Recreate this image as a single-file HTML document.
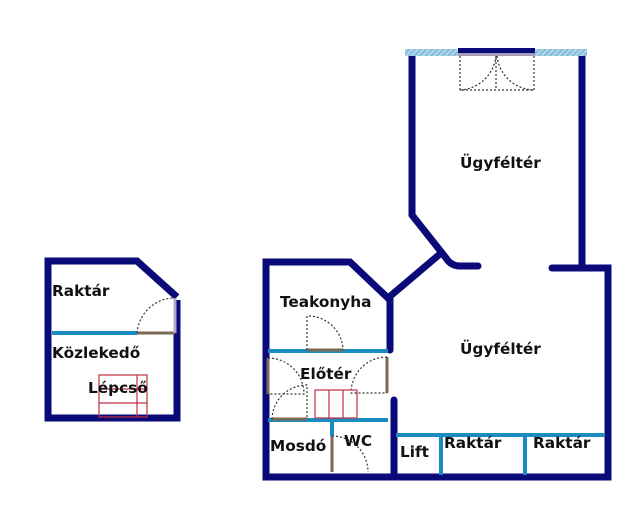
<!DOCTYPE html>
<html><head><style>body{margin:0;background:#fff}svg{display:block}text{font-family:"DejaVu Sans","Liberation Sans",sans-serif;font-weight:bold;font-size:15.3px;fill:#111}</style></head><body>
<svg width="640" height="512" viewBox="0 0 640 512">
<defs><pattern id="h" width="4" height="4" patternUnits="userSpaceOnUse" patternTransform="rotate(45)"><rect width="4" height="4" fill="#a8d4e8"/><line x1="0" y1="0" x2="0" y2="4" stroke="#5aa0c8" stroke-width="1.5"/></pattern></defs>
<g stroke="#0a0a78" stroke-width="7" fill="none" stroke-linecap="round" stroke-linejoin="miter">
<path d="M177,300 V418 H48 V261 H137 L177,297" stroke-linecap="butt"/>
<path d="M412,55 V215 L446,258 Q451,266 460,266 H478"/>
<path d="M440,254 L388,298"/>
<path d="M582,55 V266"/>
<path d="M552,268 H608 V477 H266 V262 H350 L390,300 V350"/>
<path d="M394,400 V477"/>
</g>
<rect x="405" y="49" width="182" height="7" fill="url(#h)"/>
<rect x="458" y="48" width="77" height="5" fill="#0a0a78"/>
<rect x="458" y="53" width="77" height="3" fill="#a89ab8"/>
<g stroke="#1a8cc0" stroke-width="4">
<line x1="52" y1="333" x2="137" y2="333"/>
<line x1="268" y1="351" x2="388" y2="351"/>
<line x1="268" y1="420" x2="388" y2="420"/>
<line x1="332" y1="420" x2="332" y2="436"/>
<line x1="396" y1="435" x2="605" y2="435"/>
<line x1="441" y1="435" x2="441" y2="475"/>
<line x1="525" y1="435" x2="525" y2="475"/>
</g>
<g stroke="#7a6a55" stroke-width="3">
<line x1="137" y1="333" x2="175" y2="333"/>
<line x1="307" y1="350" x2="343" y2="350"/>
<line x1="332" y1="436" x2="332" y2="472"/>
<line x1="387" y1="357" x2="387" y2="393"/>
<line x1="268" y1="358" x2="268" y2="394"/>
<line x1="272" y1="419" x2="307" y2="419"/>
</g>
<line x1="175" y1="298" x2="175" y2="333" stroke="#b0a8c8" stroke-width="3"/>
<g stroke="#333" stroke-width="1.2" stroke-dasharray="2,2" fill="none">
<path d="M137,333 A38,38 0 0 1 175,298"/>
<path d="M307,350 V316 A35,35 0 0 1 343,350"/>
<path d="M332,436 A36,36 0 0 1 368,472"/>
<path d="M387,357 A36,36 0 0 0 351,393 H387"/>
<path d="M268,358 A36,36 0 0 1 304,394 H268"/>
<path d="M272,419 A35,35 0 0 1 307,385 V419"/>
<path d="M460,56 V90 H496 L496,56 M496,56 A38,38 0 0 1 460,90"/>
<path d="M534,56 V90 H497 M497,56 A38,38 0 0 0 534,90"/>
</g>
<g stroke="#c03040" stroke-width="1.2" fill="none">
<rect x="99" y="375" width="48" height="42"/>
<line x1="99" y1="389" x2="147" y2="389"/><line x1="99" y1="403" x2="147" y2="403"/><line x1="137" y1="375" x2="137" y2="417"/>
<rect x="315" y="390" width="42" height="28"/>
<line x1="329" y1="390" x2="329" y2="418"/><line x1="343" y1="390" x2="343" y2="418"/>
</g>
<text x="52" y="296">Raktár</text>
<text x="52" y="358">Közlekedő</text>
<text x="88" y="393">Lépcső</text>
<text x="460" y="168">Ügyféltér</text>
<text x="460" y="354">Ügyféltér</text>
<text x="280" y="307">Teakonyha</text>
<text x="300" y="379">Előtér</text>
<text x="270" y="451">Mosdó</text>
<text x="344" y="446">WC</text>
<text x="400" y="457">Lift</text>
<text x="444" y="448">Raktár</text>
<text x="533" y="448">Raktár</text>
</svg>
</body></html>
